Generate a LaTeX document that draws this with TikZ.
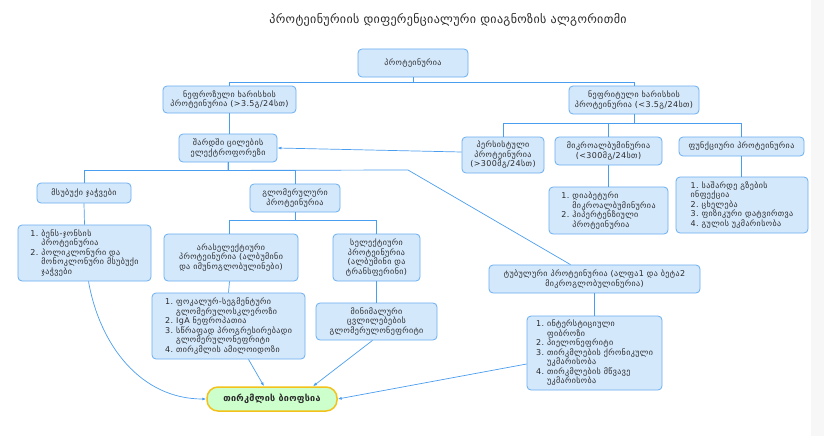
\documentclass[tikz,border=0pt]{standalone}
\usepackage{fontspec}
\setmainfont{DejaVu Sans}
\newfontfamily\nodefont[LetterSpace=5]{DejaVu Sans}
\newfontfamily\titlefont[LetterSpace=3]{DejaVu Sans}
\usetikzlibrary{arrows.meta,calc}
\definecolor{boxfill}{HTML}{D4E8FC}
\definecolor{boxline}{HTML}{6AAEF0}
\definecolor{conn}{HTML}{4A9EEF}
\definecolor{txt}{HTML}{2A2A2A}
\definecolor{biofill}{HTML}{CCFFCC}
\definecolor{bioline}{HTML}{F2C21B}
\definecolor{sidegray}{HTML}{F7F7F7}
\tikzset{
  box/.style={draw=boxline, fill=boxfill, rounded corners=4pt, line width=0.8pt,
    text=txt, font=\nodefont\fontsize{8}{9.5}\selectfont, inner sep=2pt, align=center},
  listbox/.style={box, align=left},
  wire/.style={draw=conn, line width=0.7pt},
  arr/.style={wire, -{Latex[length=4pt,width=3pt]}},
  biobox/.style={draw=bioline, fill=biofill, line width=1.5pt, rounded corners=11pt,
    text=txt, font=\titlefont\bfseries\fontsize{9}{10}\selectfont, inner sep=2pt}
}
\newcommand{\ind}{\phantom{1.~}}
\begin{document}
\begin{tikzpicture}[x=1pt,y=-1pt]
\fill[white] (0,0) rectangle (824,436);
\fill[sidegray] (811,0) rectangle (824,436);
\useasboundingbox (0,0) rectangle (824,436);

\node[text=txt, font=\titlefont\fontsize{12}{14}\selectfont] (title) at (448,20) {პროტეინურიის დიფერენციალური დიაგნოზის ალგორითმი};

\node[box, minimum width=110pt, minimum height=28pt] (root) at (413,63) {პროტეინურია};
\node[box, minimum width=133pt, minimum height=27pt] (nephrotic) at (229.5,99.5) {ნეფროზული ხარისხის\\პროტეინურია (>3.5გ/24სთ)};
\node[box, minimum width=130pt, minimum height=28pt] (nephritic) at (634,100) {ნეფრიტული ხარისხის\\პროტეინურია (<3.5გ/24სთ)};
\node[box, minimum width=98pt, minimum height=28pt] (shard) at (228,148) {შარდში ცილების\\ელექტროფორეზი};
\node[box, minimum width=82pt, minimum height=36pt] (pers) at (503,155) {პერსისტული\\პროტეინურია\\(>300მგ/24სთ)};
\node[box, minimum width=107pt, minimum height=28pt] (micro) at (608.5,151) {მიკროალბუმინურია\\(<300მგ/24სთ)};
\node[box, minimum width=125pt, minimum height=19pt] (func) at (741.5,146.5) {ფუნქციური პროტეინურია};
\node[listbox, minimum width=119pt, minimum height=47pt] (microlist) at (608.5,210.5) {1.~დიაბეტური\\\ind მიკროალბუმინურია\\2.~ჰიპერტენზიული\\\ind პროტეინურია};
\node[listbox, minimum width=132pt, minimum height=56pt] (funclist) at (742,205) {1.~საშარდე გზების\\ინფექცია\\2.~ცხელება\\3.~ფიზიკური დატვირთვა\\4.~გულის უკმარისობა};
\node[box, minimum width=94pt, minimum height=20pt] (light) at (84,193) {მსუბუქი ჯაჭვები};
\node[listbox, minimum width=133pt, minimum height=56pt] (lightlist) at (84.5,253) {1.~ბენს-ჯონსის\\\ind პროტეინურია\\2.~პოლიკლონური და\\\ind მონოკლონური მსუბუქი\\\ind ჯაჭვები};
\node[box, minimum width=90pt, minimum height=28pt] (glom) at (295,198) {გლომერულური\\პროტეინურია};
\node[box, minimum width=134pt, minimum height=47pt] (nonsel) at (231,257.5) {არასელექტიური\\პროტეინურია (ალბუმინი\\და იმუნოგლობულინები)};
\node[box, minimum width=87pt, minimum height=47pt] (sel) at (376.5,257.5) {სელექტიური\\პროტეინურია\\(ალბუმინი და\\ტრანსფერინი)};
\node[listbox, minimum width=153pt, minimum height=66pt] (nonsellist) at (228.5,326) {1.~ფოკალურ-სეგმენტური\\\ind გლომერულოსკლეროზი\\2.~IgA ნეფროპათია\\3.~სწრაფად პროგრესირებადი\\\ind გლომერულონეფრიტი\\4.~თირკმლის ამილოიდოზი};
\node[box, minimum width=121pt, minimum height=37pt] (minimal) at (376.5,321.5) {მინიმალური\\ცვლილებების\\გლომერულონეფრიტი};
\node[box, minimum width=211pt, minimum height=28pt] (tub) at (594.5,279) {ტუბულური პროტეინურია (ალფა1 და ბეტა2\\მიკროგლობულინურია)};
\node[listbox, minimum width=135pt, minimum height=74pt] (tublist) at (594.5,353) {1.~ინტერსტიციული\\\ind ფიბროზი\\2.~პიელონეფრიტი\\3.~თირკმლების ქრონიკული\\\ind უკმარისობა\\4.~თირკმლების მწვავე\\\ind უკმარისობა};
\node[biobox, minimum width=130pt, minimum height=24pt] (biopsy) at (272,399) {თირკმლის ბიოფსია};

% tree connectors
\draw[wire] (root.south) -- ++(0,5) -| (nephrotic.north);
\draw[wire] (root.south) -- ++(0,5) -| (nephritic.north);
\draw[wire] (nephrotic.south) -- (nephrotic.south |- shard.north);
\draw[wire] (nephritic.south) -- ++(0,9) -| (pers.north);
\draw[wire] (nephritic.south) -- ++(0,9) -| (micro.north);
\draw[wire] (nephritic.south) -- ++(0,9) -| (func.north);
\draw[wire] (micro.south) -- (microlist.north);
\draw[wire] (func.south) -- (func.south |- funclist.north);
\draw[wire] (shard.south) -- ++(0,8) -| (light.north);
\draw[wire] (shard.south) -- ++(0,8) -| (glom.north);
\coordinate (tbend) at (408,170);
\draw[wire] (shard.south) -- ++(0,8) -- (tbend) -- ($(tub.north)+(-24,0)$);
\draw[wire] (light.south) -- (lightlist.north);
\draw[wire] (glom.south) -- ++(0,8) -| ($(nonsel.north)+(-1.5,0)$);
\draw[wire] (glom.south) -- ++(0,8) -| (sel.north);
\draw[wire] ($(nonsel.south)+(-1.5,0)$) -- ($(nonsellist.north)+(0,0)$);
\draw[wire] (sel.south) -- (minimal.north);
\draw[wire] (tub.south) -- (tublist.north);

% arrows
\draw[arr] ($(pers.west)+(0,-3)$) -- (shard.east);
\draw[arr] ($(lightlist.south)+(4,0)$) to[out=-80,in=180] (biopsy.west);
\draw[arr] ($(nonsellist.south)+(20,0)$) -- ($(biopsy.north)+(-8,0)$);
\draw[arr] ($(minimal.south)+(-4,0)$) -- ($(biopsy.north)+(41,0)$);
\draw[arr] ($(tublist.west)+(0,11)$) -- (biopsy.east);
\end{tikzpicture}
\end{document}
